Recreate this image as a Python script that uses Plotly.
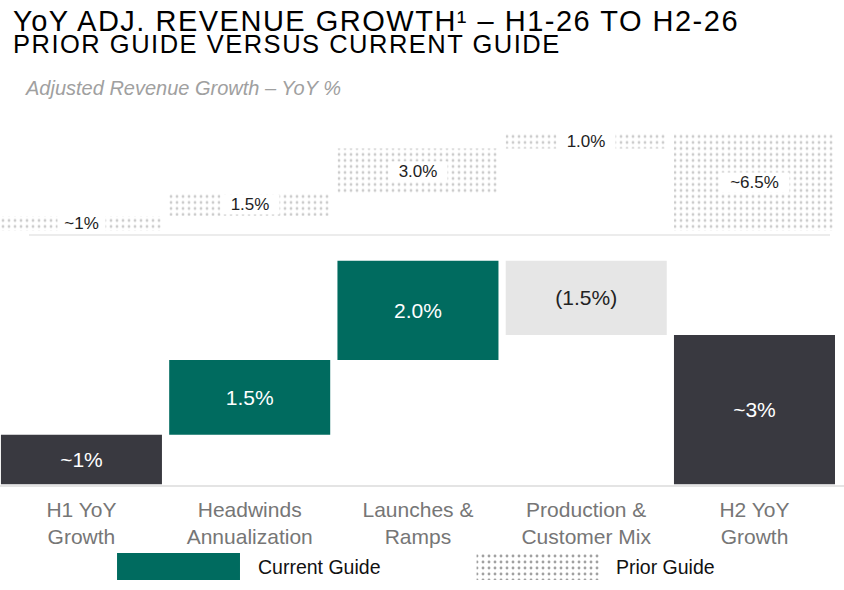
import numpy as np
import plotly.graph_objects as go

# =========================
# Data
# =========================
categories = ["H1 YoY<br>Growth", "Headwinds<br>Annualization", "Launches &<br>Ramps",
              "Production &<br>Customer Mix", "H2 YoY<br>Growth"]
measures = ["total", "relative", "relative", "relative", "total"]

current_values = [1.0, 1.5, 2.0, -1.5, 3.0]
current_labels = ["~1%", "1.5%", "2.0%", "(1.5%)", "~3%"]

prior_values = [1.0, 1.5, 3.0, 1.0, 6.5]
prior_labels = ["~1%", "1.5%", "3.0%", "1.0%", "~6.5%"]

legend_names = ["Current Guide", "Prior Guide"]

TEAL = "#006b5f"
DARK = "#393940"
LIGHT = "#e6e6e6"
FONT = "Liberation Sans, Arial, sans-serif"
W, H = 844, 590


def waterfall_bases(values, kinds):
    bases, running = [], 0.0
    for v, k in zip(values, kinds):
        if k == "total":
            bases.append(0.0)
            running = v
        else:
            bases.append(running)
            running += v
    return bases


cur_base = waterfall_bases(current_values, measures)
pri_base = waterfall_bases(prior_values, measures)

cur_colors = [DARK if m == "total" else (TEAL if v > 0 else LIGHT)
              for v, m in zip(current_values, measures)]
cur_text_colors = ["white" if c != LIGHT else "#222222" for c in cur_colors]

dots = dict(shape=".", fgcolor="#999999", bgcolor="white", size=6, solidity=0.18)

fig = go.Figure()

# current guide (bottom waterfall)
fig.add_trace(go.Bar(
    x=categories, y=current_values, base=cur_base,
    width=0.957,
    marker=dict(color=cur_colors, line=dict(width=0)),
    text=current_labels, textposition="inside", insidetextanchor="middle",
    textangle=0, constraintext="none",
    textfont=dict(size=21, color=cur_text_colors, family=FONT),
    xaxis="x", yaxis="y", showlegend=False, hoverinfo="skip",
))

# prior guide (top waterfall, dotted)
fig.add_trace(go.Bar(
    x=categories, y=prior_values, base=pri_base,
    width=0.957,
    marker=dict(color="white", line=dict(width=0), pattern=dots),
    xaxis="x2", yaxis="y2", showlegend=False, hoverinfo="skip",
))

# labels of the prior guide with white boxes
for cat, v, b, lab in zip(categories, prior_values, pri_base, prior_labels):
    fig.add_annotation(
        x=cat, y=b + v / 2, xref="x2", yref="y2", text=lab, showarrow=False,
        bgcolor="white", width=11 * len(lab) + 12, height=17, borderpad=1,
        font=dict(size=17, color="#222222", family=FONT),
    )

# legend swatches drawn as bars on their own little axis
fig.add_trace(go.Bar(
    x=legend_names, y=[1, 1], width=0.342,
    marker=dict(color=[TEAL, "white"], line=dict(width=0),
                pattern=dict(shape=["", "."], fgcolor="#999999", bgcolor=[TEAL, "white"],
                             size=6, solidity=0.18)),
    xaxis="x3", yaxis="y3", showlegend=False, hoverinfo="skip",
))
for name, xp in zip(legend_names, [256, 614]):
    fig.add_annotation(
        x=xp / W, y=1 - 566.5 / H, xref="paper", yref="paper", text=name,
        showarrow=False, xanchor="left", yanchor="middle",
        font=dict(size=19.5, color="#111111", family=FONT),
    )

# titles
fig.add_annotation(x=11 / W, y=1 - 21 / H, xref="paper", yref="paper",
                   text="<span style='letter-spacing:1.5px'>"
                        "YoY ADJ. REVENUE GROWTH¹ – H1-26 TO H2-26</span>",
                   showarrow=False, xanchor="left", yanchor="middle",
                   font=dict(size=29, color="#000000", family=FONT))
fig.add_annotation(x=11 / W, y=1 - 44.5 / H, xref="paper", yref="paper",
                   text="<span style='letter-spacing:1.5px'>"
                        "PRIOR GUIDE VERSUS CURRENT GUIDE</span>",
                   showarrow=False, xanchor="left", yanchor="middle",
                   font=dict(size=25.5, color="#000000", family=FONT))
fig.add_annotation(x=23 / W, y=1 - 88 / H, xref="paper", yref="paper",
                   text="<i>Adjusted Revenue Growth – YoY %</i>",
                   showarrow=False, xanchor="left", yanchor="middle",
                   font=dict(size=20, color="#a0a0a0", family=FONT))

# faint base line under the prior guide
fig.add_shape(type="line", xref="paper", yref="paper",
              x0=29 / W, x1=830 / W, y0=1 - 235 / H, y1=1 - 235 / H,
              line=dict(color="#ececec", width=2))

fig.update_layout(
    width=W, height=H,
    margin=dict(l=0, r=0, t=0, b=0),
    paper_bgcolor="white", plot_bgcolor="rgba(0,0,0,0)",
    barmode="overlay",
    font=dict(family=FONT),
    xaxis=dict(domain=[0, 1], range=[-0.484, 4.532], anchor="y",
               showgrid=False, zeroline=False,
               showline=True, linecolor="#e4e4e4", linewidth=2,
               ticklabelstandoff=5,
               tickfont=dict(size=21, color="#767676", family=FONT)),
    yaxis=dict(domain=[1 - 484.5 / H, 1 - 260.4 / H], range=[0, 4.5], visible=False),
    xaxis2=dict(domain=[0, 1], range=[-0.484, 4.532], anchor="y2", visible=False),
    yaxis2=dict(domain=[1 - 231 / H, 1 - 133.5 / H], range=[0, 6.5], visible=False),
    xaxis3=dict(domain=[0, 1], range=[-0.4965, 1.851], anchor="y3", visible=False),
    yaxis3=dict(domain=[1 - 580 / H, 1 - 553 / H], range=[0, 1], visible=False),
)

fig.write_html("out.html", config={"displayModeBar": False},
               post_script="document.body.style.margin='0px';")
